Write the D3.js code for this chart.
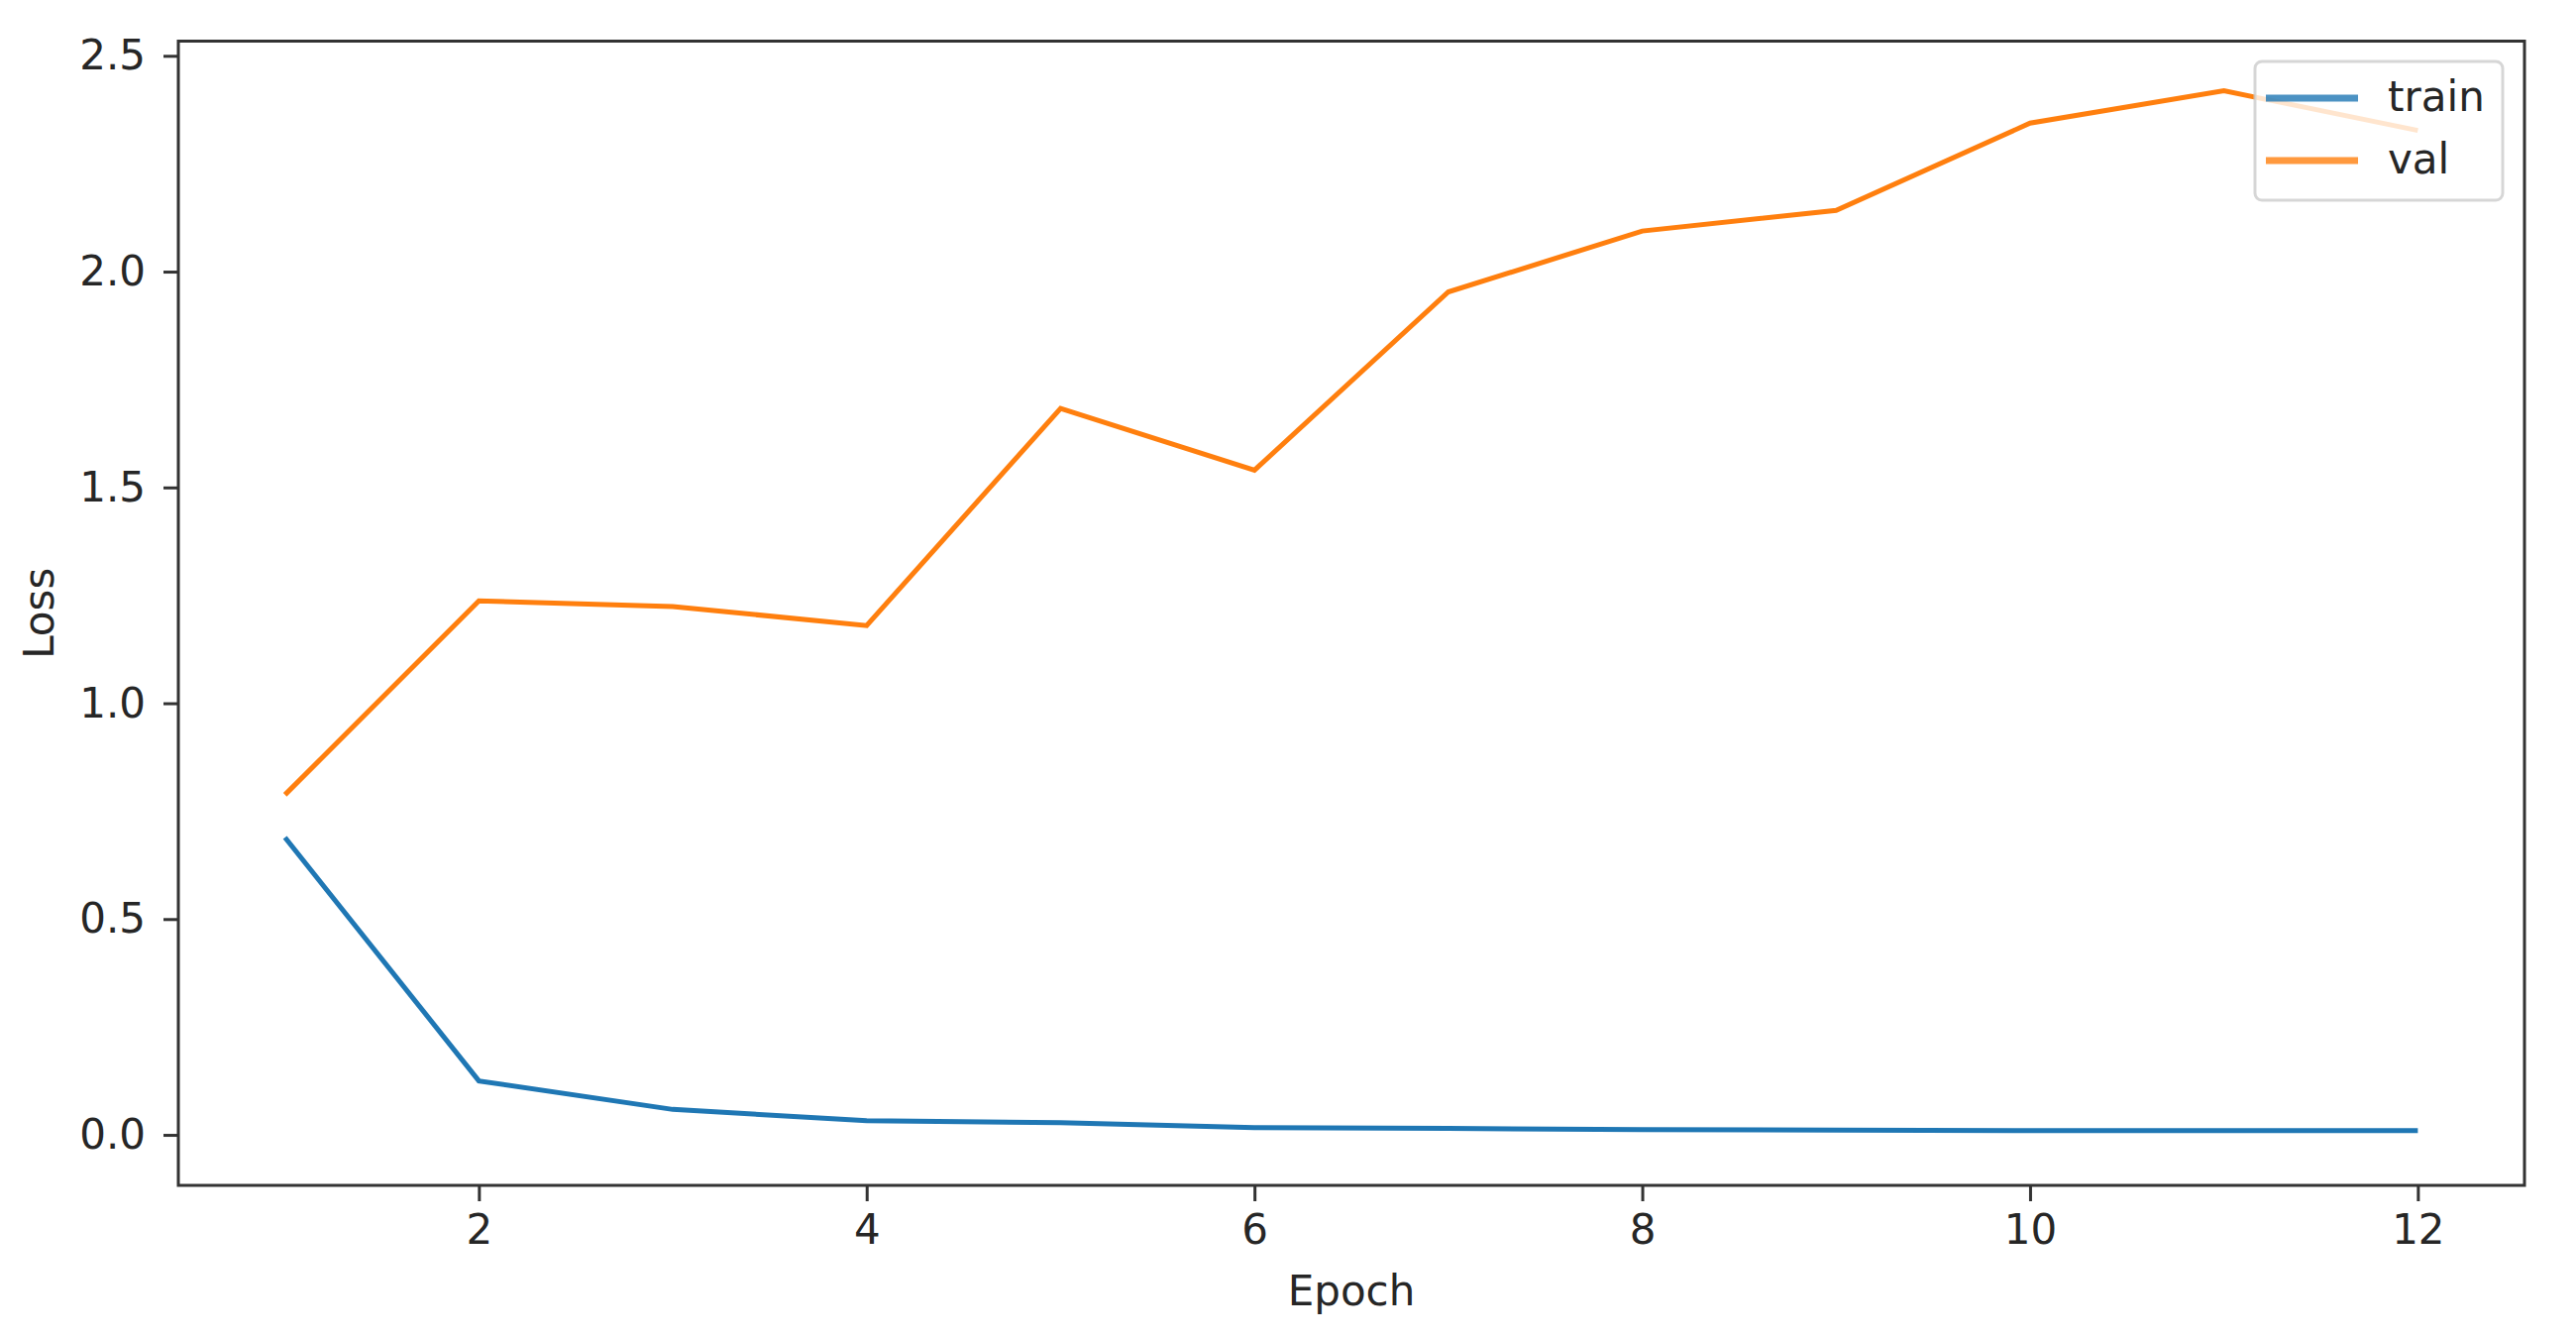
<!DOCTYPE html>
<html>
<head>
<meta charset="utf-8">
<script src="https://cdn.jsdelivr.net/npm/d3@7"></script>
<style>
  body { margin: 0; background: #fff; }
  svg text { font-family: "DejaVu Sans", sans-serif; fill: #262626; }
</style>
</head>
<body>
<div id="content"></div>
<script>
// datos
const epochs = [1, 2, 3, 4, 5, 6, 7, 8, 9, 10, 11, 12];
const trainLoss = [0.689, 0.125, 0.059, 0.033, 0.028, 0.017, 0.015, 0.012, 0.011, 0.010, 0.010, 0.010];
const valLoss = [0.788, 1.237, 1.224, 1.180, 1.683, 1.540, 1.953, 2.094, 2.142, 2.344, 2.419, 2.327];
const xTicks = [2, 4, 6, 8, 10, 12];
const yTicks = [0.0, 0.5, 1.0, 1.5, 2.0, 2.5];
const seriesNames = ['train', 'val'];
const seriesColors = ['#1f77b4', '#ff7f0e'];

const width = 2600;
const height = 1350;
const plotLeft = 180, plotRight = 2548, plotTop = 41.5, plotBottom = 1196;
const fontSize = 42;

const svg = d3.select('#content')
    .append('svg')
    .attr('width', width)
    .attr('height', height);

// escalas
const xScale = d3.scaleLinear()
    .domain([0.45, 12.55])
    .range([plotLeft, plotRight]);

const yScale = d3.scaleLinear()
    .domain([-0.117, 2.534])
    .range([plotBottom, plotTop]);

// lineas
const line = d3.line()
    .x((d, i) => xScale(epochs[i]))
    .y(d => yScale(d));

[trainLoss, valLoss].forEach((serie, k) => {
    svg.append('path')
        .datum(serie)
        .attr('fill', 'none')
        .attr('stroke', seriesColors[k])
        .attr('stroke-width', 5)
        .attr('stroke-linejoin', 'miter')
        .attr('d', line);
});

// eje X
const xAxis = d3.axisBottom(xScale)
    .tickValues(xTicks)
    .tickFormat(d3.format('d'))
    .tickSizeInner(16)
    .tickSizeOuter(0)
    .tickPadding(13);
const gx = svg.append('g')
    .attr('transform', `translate(0, ${plotBottom})`)
    .call(xAxis);

// eje Y
const yAxis = d3.axisLeft(yScale)
    .tickValues(yTicks)
    .tickFormat(d3.format('.1f'))
    .tickSizeInner(15)
    .tickSizeOuter(0)
    .tickPadding(18);
const gy = svg.append('g')
    .attr('transform', `translate(${plotLeft}, 0)`)
    .call(yAxis);

[gx, gy].forEach(g => {
    g.select('.domain').remove();
    g.selectAll('line').attr('stroke', '#333').attr('stroke-width', 3);
    g.selectAll('text')
        .style('font-size', fontSize + 'px')
        .attr('fill', '#262626');
});

// marco de los ejes
svg.append('rect')
    .attr('x', plotLeft)
    .attr('y', plotTop)
    .attr('width', plotRight - plotLeft)
    .attr('height', plotBottom - plotTop)
    .attr('fill', 'none')
    .attr('stroke', '#333')
    .attr('stroke-width', 3);

// titulos de ejes
svg.append('text')
    .attr('x', (plotLeft + plotRight) / 2)
    .attr('y', 1317)
    .attr('text-anchor', 'middle')
    .style('font-size', fontSize + 'px')
    .text('Epoch');

svg.append('text')
    .attr('transform', `translate(54, ${(plotTop + plotBottom) / 2}) rotate(-90)`)
    .attr('text-anchor', 'middle')
    .style('font-size', fontSize + 'px')
    .text('Loss');

// leyenda
const legend = svg.append('g');
legend.append('rect')
    .attr('x', 2276)
    .attr('y', 62)
    .attr('width', 250)
    .attr('height', 140)
    .attr('rx', 7)
    .attr('fill', '#fff')
    .attr('fill-opacity', 0.8)
    .attr('stroke', '#ccc')
    .attr('stroke-opacity', 0.8)
    .attr('stroke-width', 3);

seriesNames.forEach((name, i) => {
    const yy = 99 + i * 63;
    legend.append('line')
        .attr('x1', 2287)
        .attr('x2', 2380)
        .attr('y1', yy)
        .attr('y2', yy)
        .attr('stroke', seriesColors[i])
        .attr('stroke-opacity', 0.8)
        .attr('stroke-width', 7);
    legend.append('text')
        .attr('x', 2410)
        .attr('y', yy + 13)
        .style('font-size', fontSize + 'px')
        .text(name);
});
</script>
</body>
</html>
